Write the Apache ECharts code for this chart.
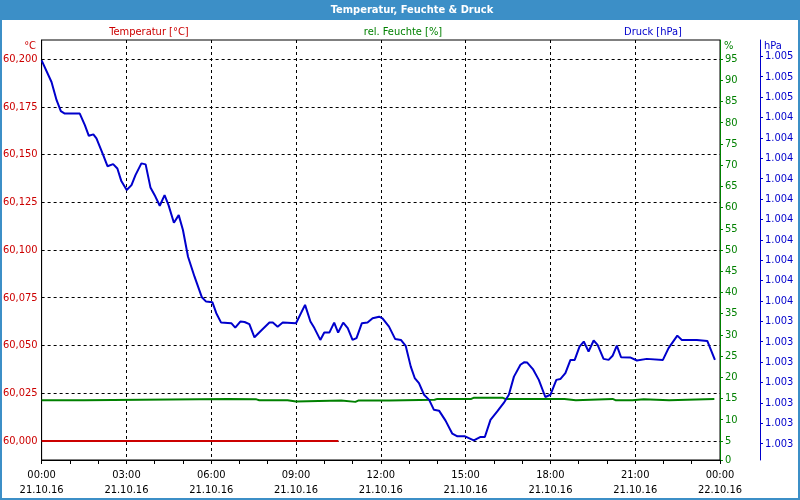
<!DOCTYPE html>
<html>
<head>
<meta charset="utf-8">
<script src="https://cdn.jsdelivr.net/npm/echarts@6/dist/echarts.min.js"></script>
<style>html,body{margin:0;padding:0;background:#fff}#c{width:800px;height:500px}</style>
</head>
<body>
<div id="c"></div>
<script>
// ---- data ----
const chartTitle = 'Temperatur, Feuchte & Druck';
const seriesNames = ['Temperatur [°C]', 'rel. Feuchte [%]', 'Druck [hPa]'];
const unitNames = ['°C', '%', 'hPa'];
const dateLabels = ['21.10.16', '22.10.16'];
const xTicksHours = [0, 3, 6, 9, 12, 15, 18, 21, 24];

const tempTicks = [60.000, 60.025, 60.050, 60.075, 60.100, 60.125, 60.150, 60.175, 60.200];
const humTicks = [0.5, 5, 10, 15, 20, 25, 30, 35, 40, 45, 50, 55, 60, 65, 70, 75, 80, 85, 90, 95];
const pressTicks = [1002.8, 1002.9, 1003.0, 1003.1, 1003.2, 1003.3, 1003.4, 1003.5, 1003.6, 1003.7,
  1003.8, 1003.9, 1004.0, 1004.1, 1004.2, 1004.3, 1004.4, 1004.5, 1004.6, 1004.7];

const tempHours = [0, 1, 2, 3, 4, 5, 6, 7, 8, 9, 10, 10.5];
const tempValues = [60.000, 60.000, 60.000, 60.000, 60.000, 60.000, 60.000, 60.000, 60.000, 60.000, 60.000, 60.000];

const humHours = [0, 1.5, 1.55, 6.6, 6.65, 7.6, 7.7, 8.7, 8.75, 9.0, 9.05, 10.6, 10.65, 11.1, 11.2, 12.3, 12.35,
  13.9, 14.0, 15.2, 15.3, 16.3, 16.4, 18.5, 18.55, 18.9, 18.95, 20.2, 20.3, 20.9, 20.95, 21.3, 21.35, 22.2, 22.25, 23.8];
const humValues = [14.6, 14.6, 14.9, 14.9, 14.8, 14.8, 14.6, 14.6, 14.3, 14.3, 14.5, 14.5, 14.2, 14.2, 14.5, 14.5, 14.7,
  14.7, 14.9, 14.9, 15.2, 15.2, 14.9, 14.9, 14.6, 14.6, 14.9, 14.9, 14.6, 14.6, 14.8, 14.8, 14.6, 14.6, 14.9, 14.9];

const pressHours = [0, 0.35, 0.53, 0.68, 0.82, 1.35, 1.53, 1.67, 1.83, 1.94,
  2.18, 2.33, 2.53, 2.68, 2.82, 3.01, 3.18, 3.32, 3.53, 3.68,
  3.85, 4.0, 4.18, 4.35, 4.49, 4.68, 4.85, 5.0, 5.18, 5.41,
  5.67, 5.82, 6.04, 6.18, 6.35, 6.71, 6.85, 7.03, 7.18, 7.35,
  7.53, 7.77, 8.06, 8.18, 8.35, 8.53, 9.0, 9.32, 9.51, 9.65,
  9.86, 10.0, 10.18, 10.35, 10.49, 10.67, 10.83, 11.0, 11.14, 11.33,
  11.53, 11.71, 11.94, 12.06, 12.29, 12.51, 12.71, 12.88, 13.06, 13.2,
  13.35, 13.53, 13.71, 13.88, 14.06, 14.29, 14.53, 14.71, 14.98, 15.29,
  15.53, 15.68, 15.88, 16.12, 16.35, 16.53, 16.71, 16.94, 17.08, 17.18,
  17.38, 17.59, 17.82, 18.0, 18.21, 18.35, 18.53, 18.71, 18.86, 19.03,
  19.18, 19.35, 19.53, 19.67, 19.88, 20.06, 20.2, 20.35, 20.5, 20.82,
  21.06, 21.41, 21.98, 22.18, 22.49, 22.65, 23.18, 23.55, 23.82];
const pressValues = [1004.680, 1004.574, 1004.485, 1004.431, 1004.419, 1004.419, 1004.362, 1004.310, 1004.317, 1004.297,
  1004.215, 1004.161, 1004.171, 1004.150, 1004.088, 1004.044, 1004.068, 1004.117, 1004.175, 1004.170,
  1004.057, 1004.019, 1003.967, 1004.019, 1003.970, 1003.884, 1003.921, 1003.848, 1003.717, 1003.619,
  1003.518, 1003.497, 1003.494, 1003.440, 1003.394, 1003.391, 1003.369, 1003.399, 1003.397, 1003.386,
  1003.322, 1003.355, 1003.394, 1003.394, 1003.374, 1003.394, 1003.391, 1003.481, 1003.399, 1003.367,
  1003.309, 1003.345, 1003.345, 1003.394, 1003.345, 1003.394, 1003.367, 1003.309, 1003.318, 1003.391,
  1003.394, 1003.415, 1003.423, 1003.415, 1003.374, 1003.313, 1003.309, 1003.280, 1003.178, 1003.122,
  1003.097, 1003.040, 1003.015, 1002.966, 1002.962, 1002.913, 1002.849, 1002.836, 1002.836, 1002.816,
  1002.833, 1002.833, 1002.917, 1002.958, 1003.000, 1003.040, 1003.129, 1003.187, 1003.200, 1003.198,
  1003.166, 1003.113, 1003.029, 1003.040, 1003.113, 1003.117, 1003.146, 1003.211, 1003.211, 1003.276,
  1003.301, 1003.252, 1003.306, 1003.285, 1003.216, 1003.211, 1003.231, 1003.281, 1003.224, 1003.223,
  1003.208, 1003.216, 1003.211, 1003.269, 1003.330, 1003.309, 1003.309, 1003.304, 1003.211];

// ---- chart ----
const RED = '#cc0000', GREEN = '#008000', BLUE = '#0000cc', FRAME = '#3c8fc7';
const FONT = '"DejaVu Sans Condensed", "DejaVu Sans", sans-serif';
const pairs = (xs, ys) => xs.slice(0, Math.min(xs.length, ys.length)).map((x, i) => [x, ys[i]]);
const pad = n => (n < 10 ? '0' : '') + n;

const chart = echarts.init(document.getElementById('c'), null, { renderer: 'canvas' });
chart.setOption({
  animation: false,
  backgroundColor: '#ffffff',
  textStyle: { fontFamily: FONT },
  grid: { left: 40, right: 80, top: 40, bottom: 40, show: true, borderColor: '#000', borderWidth: 1, backgroundColor: '#fff' },
  graphic: [
    { type: 'rect', shape: { x: 0, y: 0, width: 800, height: 20 }, style: { fill: FRAME }, z: 100 },
    { type: 'rect', shape: { x: 1, y: 1, width: 798, height: 498 }, style: { fill: null, stroke: FRAME, lineWidth: 2 }, z: 100 },
    { type: 'text', x: 412, y: 10, z: 101, style: { text: chartTitle, fill: '#fff', font: 'bold 11px ' + FONT, textAlign: 'center', textVerticalAlign: 'middle' } },
    { type: 'text', x: 149, y: 32, style: { text: seriesNames[0], fill: RED, font: '11px ' + FONT, textAlign: 'center', textVerticalAlign: 'middle' } },
    { type: 'text', x: 403, y: 32, style: { text: seriesNames[1], fill: GREEN, font: '11px ' + FONT, textAlign: 'center', textVerticalAlign: 'middle' } },
    { type: 'text', x: 653, y: 32, style: { text: seriesNames[2], fill: BLUE, font: '11px ' + FONT, textAlign: 'center', textVerticalAlign: 'middle' } },
    { type: 'text', x: 36, y: 46, style: { text: unitNames[0], fill: RED, font: '11px ' + FONT, textAlign: 'right', textVerticalAlign: 'middle' } },
    { type: 'text', x: 724, y: 46, style: { text: unitNames[1], fill: GREEN, font: '11px ' + FONT, textAlign: 'left', textVerticalAlign: 'middle' } },
    { type: 'text', x: 764, y: 46, style: { text: unitNames[2], fill: BLUE, font: '11px ' + FONT, textAlign: 'left', textVerticalAlign: 'middle' } }
  ],
  xAxis: {
    type: 'value', min: 0, max: 24, interval: 3,
    axisLine: { lineStyle: { color: '#000', width: 1 } },
    axisTick: { show: true, length: 4, lineStyle: { color: '#000' } },
    minorTick: { show: true, splitNumber: 3, length: 4, lineStyle: { color: '#000' } },
    splitLine: { show: true, lineStyle: { color: '#000', type: [3, 3], width: 1 } },
    axisLabel: {
      color: '#000', fontSize: 11, lineHeight: 15, margin: 8, fontFamily: FONT,
      customValues: xTicksHours,
      formatter: v => pad(v % 24) + ':00\n' + (v >= 24 ? dateLabels[1] : dateLabels[0])
    }
  },
  yAxis: [
    {
      type: 'value', position: 'left', min: 59.99, max: 60.21,
      axisLine: { show: true, lineStyle: { color: '#000' } },
      axisTick: { show: false, customValues: tempTicks },
      splitLine: { show: true, lineStyle: { color: '#000', type: [3, 3], width: 1 } },
      axisLabel: { color: RED, fontSize: 11, margin: 4, fontFamily: FONT, customValues: tempTicks,
        formatter: v => v.toFixed(3).replace('.', ',') }
    },
    {
      type: 'value', position: 'right', offset: 0, min: 0.5, max: 99.5,
      axisLine: { show: true, lineStyle: { color: GREEN } },
      axisTick: { show: true, inside: false, length: 3, lineStyle: { color: GREEN }, customValues: humTicks },
      splitLine: { show: false },
      axisLabel: { color: GREEN, fontSize: 11, margin: 5, fontFamily: FONT, customValues: humTicks,
        formatter: v => String(Math.floor(v)) }
    },
    {
      type: 'value', position: 'right', offset: 40, min: 1002.72, max: 1004.78,
      axisLine: { show: true, lineStyle: { color: BLUE } },
      axisTick: { show: true, inside: false, length: 3, lineStyle: { color: BLUE }, customValues: pressTicks },
      splitLine: { show: false },
      axisLabel: { color: BLUE, fontSize: 11, margin: 5, fontFamily: FONT, customValues: pressTicks,
        formatter: v => { const r = String(Math.round(v)); return r.slice(0, 1) + '.' + r.slice(1); } }
    }
  ],
  series: [
    { name: seriesNames[1], type: 'line', yAxisIndex: 1, data: pairs(humHours, humValues), showSymbol: false,
      lineStyle: { color: GREEN, width: 2 }, itemStyle: { color: GREEN }, z: 2 },
    { name: seriesNames[0], type: 'line', yAxisIndex: 0, data: pairs(tempHours, tempValues), showSymbol: false,
      lineStyle: { color: RED, width: 2 }, itemStyle: { color: RED }, z: 3 },
    { name: seriesNames[2], type: 'line', yAxisIndex: 2, data: pairs(pressHours, pressValues), showSymbol: false,
      lineStyle: { color: BLUE, width: 2 }, itemStyle: { color: BLUE }, z: 4 }
  ]
});
</script>
</body>
</html>
